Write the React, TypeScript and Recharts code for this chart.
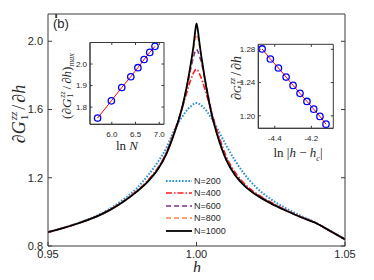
import React from "react";
import { LineChart, Line, XAxis, YAxis, Legend, ReferenceArea } from "recharts";

// main panel: dG/dh against h for several N
const hValues = [
  0.95, 0.955, 0.96, 0.965, 0.97, 0.975, 0.98, 0.984, 0.987, 0.99, 0.992, 0.994, 0.995, 0.996,
  0.997, 0.998, 0.999, 0.9995, 1.0, 1.0005, 1.001, 1.002, 1.003, 1.004, 1.005, 1.006, 1.008,
  1.01, 1.013, 1.016, 1.02, 1.025, 1.03, 1.035, 1.04, 1.045, 1.05,
];
const n200 = [
  0.881, 0.905, 0.933, 0.967, 1.01, 1.068, 1.14, 1.222, 1.293, 1.38, 1.46, 1.525, 1.552, 1.578,
  1.6, 1.617, 1.632, 1.637, 1.639, 1.637, 1.632, 1.617, 1.6, 1.577, 1.55, 1.52, 1.455, 1.39,
  1.3, 1.225, 1.145, 1.075, 1.022, 0.978, 0.938, 0.889, 0.839,
];
const n400 = [
  0.881, 0.905, 0.932, 0.964, 1.005, 1.058, 1.125, 1.192, 1.258, 1.355, 1.445, 1.545, 1.6, 1.655,
  1.715, 1.772, 1.815, 1.83, 1.835, 1.828, 1.81, 1.765, 1.71, 1.65, 1.59, 1.53, 1.42, 1.325,
  1.232, 1.168, 1.11, 1.057, 1.012, 0.972, 0.937, 0.888, 0.839,
];
const n600 = [
  0.881, 0.905, 0.932, 0.963, 1.004, 1.056, 1.122, 1.188, 1.253, 1.35, 1.44, 1.54, 1.6, 1.67,
  1.75, 1.835, 1.91, 1.94, 1.952, 1.94, 1.915, 1.85, 1.765, 1.675, 1.59, 1.52, 1.405, 1.313,
  1.222, 1.16, 1.104, 1.053, 1.01, 0.97, 0.936, 0.888, 0.839,
];
const n800 = [
  0.881, 0.905, 0.932, 0.963, 1.003, 1.055, 1.121, 1.186, 1.251, 1.347, 1.437, 1.54, 1.6, 1.675,
  1.758, 1.855, 1.955, 2.01, 2.04, 2.02, 1.975, 1.865, 1.762, 1.668, 1.585, 1.513, 1.398, 1.308,
  1.218, 1.157, 1.101, 1.051, 1.009, 0.97, 0.936, 0.888, 0.839,
];
const n1000 = [
  0.881, 0.905, 0.932, 0.963, 1.003, 1.055, 1.12, 1.185, 1.25, 1.345, 1.435, 1.54, 1.6, 1.675,
  1.76, 1.86, 1.975, 2.05, 2.105, 2.06, 1.99, 1.87, 1.76, 1.665, 1.58, 1.51, 1.395, 1.305,
  1.215, 1.155, 1.1, 1.05, 1.008, 0.97, 0.936, 0.888, 0.839,
];

// left inset: peak height vs ln N
const lnN = [5.7, 5.99, 6.21, 6.4, 6.55, 6.68, 6.8, 6.91];
const peakMax = [1.749, 1.829, 1.891, 1.941, 1.983, 2.021, 2.054, 2.082];

// right inset: dG/dh vs ln|h-hc|
const lnDist = [-4.469, -4.424, -4.38, -4.338, -4.3, -4.262, -4.224, -4.187, -4.153, -4.12];
const slopeVals = [1.2804, 1.2683, 1.2575, 1.2466, 1.2366, 1.227, 1.2173, 1.208, 1.1993, 1.19];

const mainTicksX = [0.95, 1.0, 1.05];
const mainTicksY = [0.8, 1.2, 1.6, 2.0];
const inset1TicksX = [6.0, 6.5, 7.0];
const inset1TicksY = [1.8, 1.9, 2.0];
const inset2TicksX = [-4.4, -4.2];
const inset2TicksY = [1.2, 1.24, 1.28];

const series = [
  { key: "n200", name: "N=200", color: "#2a8fd8", dash: "1.6 1.6", width: 2 },
  { key: "n400", name: "N=400", color: "#ff1a1a", dash: "6 2 1.5 2", width: 1.6 },
  { key: "n600", name: "N=600", color: "#7e2f8e", dash: "5 3", width: 1.6 },
  { key: "n800", name: "N=800", color: "#f4874b", dash: "5 3", width: 1.6 },
  { key: "n1000", name: "N=1000", color: "#000000", dash: undefined, width: 1.8 },
];

const mainData = hValues.map((h, i) => ({
  h,
  n200: n200[i],
  n400: n400[i],
  n600: n600[i],
  n800: n800[i],
  n1000: n1000[i],
}));
const inset1Data = lnN.map((x, i) => ({ x, y: peakMax[i] }));
const inset2Data = lnDist.map((x, i) => ({ x, y: slopeVals[i] }));

const AXIS = "#3a3a3a";
const TXT = "#262626";
const SANS = '"Liberation Sans", Arial, sans-serif';
const SERIF = '"Liberation Serif", "Times New Roman", serif';

type Side = "bottom" | "top" | "left" | "right";

// ticks point inward like MATLAB; the label (if any) sits outside.
// span > 0 also draws the matching tick on the opposite edge of the box.
function tickFor(side: Side, len: number, gap: number, size: number, digits?: number, span = 0) {
  return (props: any) => {
    const { x, y, payload } = props;
    const label = digits === undefined ? null : Number(payload.value).toFixed(digits);
    if (side === "bottom") {
      const ay = y - gap;
      return (
        <g>
          <line x1={x} y1={ay} x2={x} y2={ay - len} stroke={AXIS} />
          {span > 0 && <line x1={x} y1={ay - span} x2={x} y2={ay - span + len} stroke={AXIS} />}
          {label && (
            <text x={x} y={y} dy="0.71em" textAnchor="middle" fontSize={size} fill={TXT} fontFamily={SANS}>
              {label}
            </text>
          )}
        </g>
      );
    }
    if (side === "top") {
      return <line x1={x} y1={y + gap} x2={x} y2={y + gap + len} stroke={AXIS} />;
    }
    if (side === "left") {
      const ax = x + gap;
      return (
        <g>
          <line x1={ax} y1={y} x2={ax + len} y2={y} stroke={AXIS} />
          {span > 0 && <line x1={ax + span} y1={y} x2={ax + span - len} y2={y} stroke={AXIS} />}
          {label && (
            <text x={x} y={y} dy="0.355em" textAnchor="end" fontSize={size} fill={TXT} fontFamily={SANS}>
              {label}
            </text>
          )}
        </g>
      );
    }
    return <line x1={x - gap} y1={y} x2={x - gap - len} y2={y} stroke={AXIS} />;
  };
}

function LegendBox() {
  return (
    <div style={{ fontFamily: SANS, fontSize: 9, color: TXT }}>
      {series.map((s) => (
        <div key={s.key} style={{ height: 12.5, display: "flex", alignItems: "center" }}>
          <svg width={29} height={10}>
            <line x1={2} y1={5} x2={28} y2={5} stroke={s.color} strokeWidth={s.width} strokeDasharray={s.dash} />
          </svg>
          <span style={{ marginLeft: 1 }}>{s.name}</span>
        </div>
      ))}
    </div>
  );
}

function DG({ size, gScale = 1 }: { size: number; gScale?: number }) {
  // ∂G_1^{zz}/∂h, sup and sub stacked
  return (
    <span style={{ fontFamily: SERIF, fontSize: size, whiteSpace: "nowrap", color: TXT }}>
      ∂<i style={{ fontSize: `${gScale}em` }}>G</i>
      <span
        style={{
          display: "inline-flex",
          flexDirection: "column",
          fontSize: "0.62em",
          lineHeight: 0.95,
          position: "relative",
          top: "-0.7em",
          marginLeft: 1,
          marginBottom: "-1em",
        }}
      >
        <i>zz</i>
        <span>1</span>
      </span>
      <span style={{ margin: "0 2px" }}>/</span>∂<i>h</i>
    </span>
  );
}

function Rot({ x, y, children }: { x: number; y: number; children: React.ReactNode }) {
  return (
    <div
      style={{
        position: "absolute",
        left: x,
        top: y,
        transform: "translate(-50%, -50%) rotate(-90deg)",
        whiteSpace: "nowrap",
        lineHeight: 1.1,
      }}
    >
      {children}
    </div>
  );
}

export default function App() {
  const full = { position: "absolute" as const, left: 0, top: 0 };
  return (
    <div style={{ position: "relative", width: 374, height: 280, margin: -8, background: "#fff" }}>
      <LineChart
        width={374}
        height={280}
        data={mainData}
        margin={{ top: 13, right: 28, bottom: 0, left: 0 }}
        style={full}
      >
        <XAxis
          dataKey="h"
          type="number"
          domain={[0.95, 1.05]}
          ticks={mainTicksX}
          interval={0}
          height={34}
          tickSize={0}
          tickMargin={4}
          tickLine={false}
          allowDataOverflow
          stroke={AXIS}
          tick={tickFor("bottom", 4, 4, 11, 2)}
        />
        <XAxis
          xAxisId="top"
          orientation="top"
          type="number"
          domain={[0.95, 1.05]}
          ticks={mainTicksX}
          interval={0}
          height={1}
          tickSize={0}
          tickMargin={0}
          tickLine={false}
          allowDataOverflow
          stroke={AXIS}
          tick={tickFor("top", 4, 0, 11)}
        />
        <YAxis
          type="number"
          domain={[0.8, 2.16]}
          ticks={mainTicksY}
          interval={0}
          width={48}
          tickSize={0}
          tickMargin={5}
          tickLine={false}
          allowDataOverflow
          stroke={AXIS}
          tick={tickFor("left", 4, 5, 11, 1)}
        />
        <YAxis
          yAxisId="right"
          orientation="right"
          type="number"
          domain={[0.8, 2.16]}
          ticks={mainTicksY}
          interval={0}
          width={1}
          tickSize={0}
          tickMargin={0}
          tickLine={false}
          allowDataOverflow
          stroke={AXIS}
          tick={tickFor("right", 4, 0, 11)}
        />
        {series.map((s) => (
          <Line
            key={s.key}
            dataKey={s.key}
            name={s.name}
            type="monotone"
            stroke={s.color}
            strokeWidth={s.width}
            strokeDasharray={s.dash}
            dot={false}
            isAnimationActive={false}
          />
        ))}
        <Legend
          layout="vertical"
          align="center"
          verticalAlign="middle"
          wrapperStyle={{ left: 164, top: 174.5, width: 70 }}
          content={() => <LegendBox />}
        />
      </LineChart>

      {/* left inset, box 90..164 x 42.5..124.3 */}
      <LineChart
        width={374}
        height={280}
        data={inset1Data}
        margin={{ top: 42.5, right: 210, bottom: 154.7, left: 0 }}
        style={full}
      >
        <XAxis dataKey="x" type="number" domain={[5.54, 7.1]} ticks={inset1TicksX} interval={0} height={1}
          tickSize={0} tickMargin={7} tickLine={false} stroke={AXIS} allowDataOverflow
          tick={tickFor("bottom", 2.5, 7, 8, 1, 81.8)} />
        <YAxis type="number" domain={[1.72, 2.1]} ticks={inset1TicksY} interval={0} width={90}
          tickSize={0} tickMargin={3} tickLine={false} stroke={AXIS} allowDataOverflow
          tick={tickFor("left", 2.5, 3, 8, 1, 74)} />
        <ReferenceArea x1={5.54} x2={7.1} y1={1.72} y2={2.1} fill="none" stroke={AXIS} strokeOpacity={1} />
        <Line dataKey="y" type="linear" stroke="#ff0000" strokeWidth={1}
          dot={{ r: 3.2, stroke: "#0000ff", strokeWidth: 1.3, fill: "none" }}
          isAnimationActive={false} />
      </LineChart>

      {/* right inset, box 258.3..333.3 x 44.3..128.3 */}
      <LineChart
        width={374}
        height={280}
        data={inset2Data}
        margin={{ top: 44.3, right: 40.7, bottom: 150.7, left: 0 }}
        style={full}
      >
        <XAxis dataKey="x" type="number" domain={[-4.49, -4.08]} ticks={inset2TicksX} interval={0} height={1}
          tickSize={0} tickMargin={7} tickLine={false} stroke={AXIS} allowDataOverflow
          tick={tickFor("bottom", 2.5, 7, 8, 1, 84)} />
        <YAxis type="number" domain={[1.185, 1.286]} ticks={inset2TicksY} interval={0} width={258.3}
          tickSize={0} tickMargin={3} tickLine={false} stroke={AXIS} allowDataOverflow
          tick={tickFor("left", 2.5, 3, 8, 2, 75)} />
        <ReferenceArea x1={-4.49} x2={-4.08} y1={1.185} y2={1.286} fill="none" stroke={AXIS} strokeOpacity={1} />
        <Line dataKey="y" type="linear" stroke="#ff0000" strokeWidth={1}
          dot={{ r: 3.2, stroke: "#0000ff", strokeWidth: 1.3, fill: "none" }}
          isAnimationActive={false} />
      </LineChart>

      {/* text overlays */}
      <div style={{ position: "absolute", left: 53, top: 16, fontFamily: SANS, fontSize: 13, color: TXT }}>(b)</div>
      <Rot x={20} y={114}>
        <DG size={18} />
      </Rot>
      <div style={{ position: "absolute", left: 193, top: 260, fontFamily: SERIF, fontSize: 16, fontStyle: "italic", color: TXT, lineHeight: 1 }}>
        h
      </div>
      <Rot x={67} y={86}>
        <span style={{ fontFamily: SERIF, fontSize: 13, color: TXT }}>
          (<DG size={13} />)<sub style={{ fontSize: "0.62em", fontStyle: "italic" }}>max</sub>
        </span>
      </Rot>
      <div style={{ position: "absolute", left: 127, top: 146, transform: "translate(-50%, -50%)", fontFamily: SERIF, fontSize: 13, color: TXT, whiteSpace: "nowrap" }}>
        ln <i>N</i>
      </div>
      <Rot x={236} y={78}>
        <DG size={14} gScale={0.75} />
      </Rot>
      <div style={{ position: "absolute", left: 298, top: 154, transform: "translate(-50%, -50%)", fontFamily: SERIF, fontSize: 13, color: TXT, whiteSpace: "nowrap" }}>
        ln |<i>h</i> − <i>h</i>
        <sub style={{ fontSize: "0.62em", fontStyle: "italic" }}>c</sub>|
      </div>
    </div>
  );
}
